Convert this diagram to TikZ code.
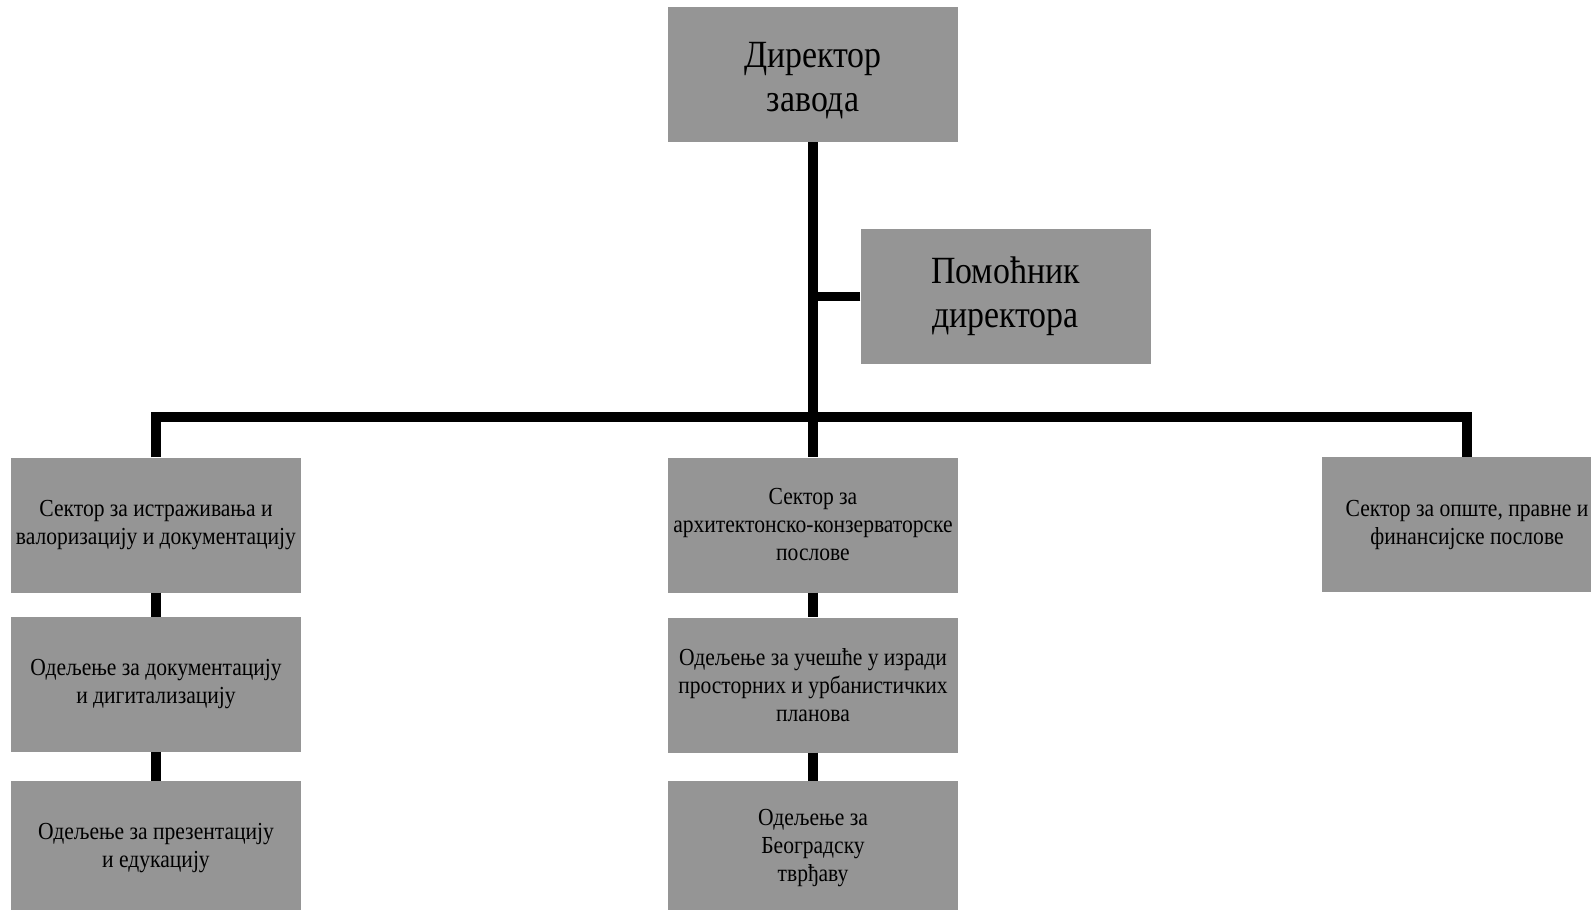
\documentclass[tikz,border=0pt]{standalone}
\usepackage{fontspec}
\setmainfont{Liberation Serif}[FakeStretch=0.88]
\definecolor{boxgray}{RGB}{149,149,149}
\tikzset{
  unit/.style={fill=boxgray, minimum width=290pt, minimum height=135pt,
    inner sep=0pt, align=center, font=\fontsize{24.5}{28}\selectfont},
  head/.style={unit, font=\fontsize{38.5}{44}\selectfont},
  link/.style={line width=9.5pt, line join=miter}
}

\begin{document}
\begin{tikzpicture}[x=1pt,y=-1pt]
    \clip (0,0) rectangle (1591,910);
    \fill [white] (0,0) rectangle (1591,910);

    \node [head] (director) at (813,74.5) {\raisebox{-6pt}[\height][\depth]{\parbox{290pt}{\centering Директор\\завода}}};
    \node [head] (pomocnik) at (1005.5,296.5) {Помоћник\\директора};

    \node [unit] (sec1) at (156,525) {Сектор за истраживања и\\валоризацију и документацију};
    \node [unit] (sec2) at (813,525) {Сектор за\\архитектонско-конзерваторске\\послове};
    \node [unit] (sec3) at (1467,524.5) {Сектор за опште, правне и\\финансијске послове};

    \node [unit] (od11) at (156,684.5) {Одељење за документацију\\и дигитализацију};
    \node [unit] (od12) at (156,848.5) {Одељење за презентацију\\и едукацију};

    \node [unit] (od21) at (813,685) {Одељење за учешће у изради\\просторних и урбанистичких\\планова};
    \node [unit] (od22) at (813,848.5) {Одељење за\\Београдску\\тврђаву};

    \coordinate (bus) at (813,417);

    \draw [link] (director.south) -- (sec2.north);
    \draw [link] (pomocnik.west) -- (director.south |- pomocnik.west);
    \draw [link] (sec1.north) |- (bus) -| (sec3.north);

    \draw [link] (sec1.south) -- (od11.north);
    \draw [link] (od11.south) -- (od12.north);
    \draw [link] (sec2.south) -- (od21.north);
    \draw [link] (od21.south) -- (od22.north);
\end{tikzpicture}
\end{document}
